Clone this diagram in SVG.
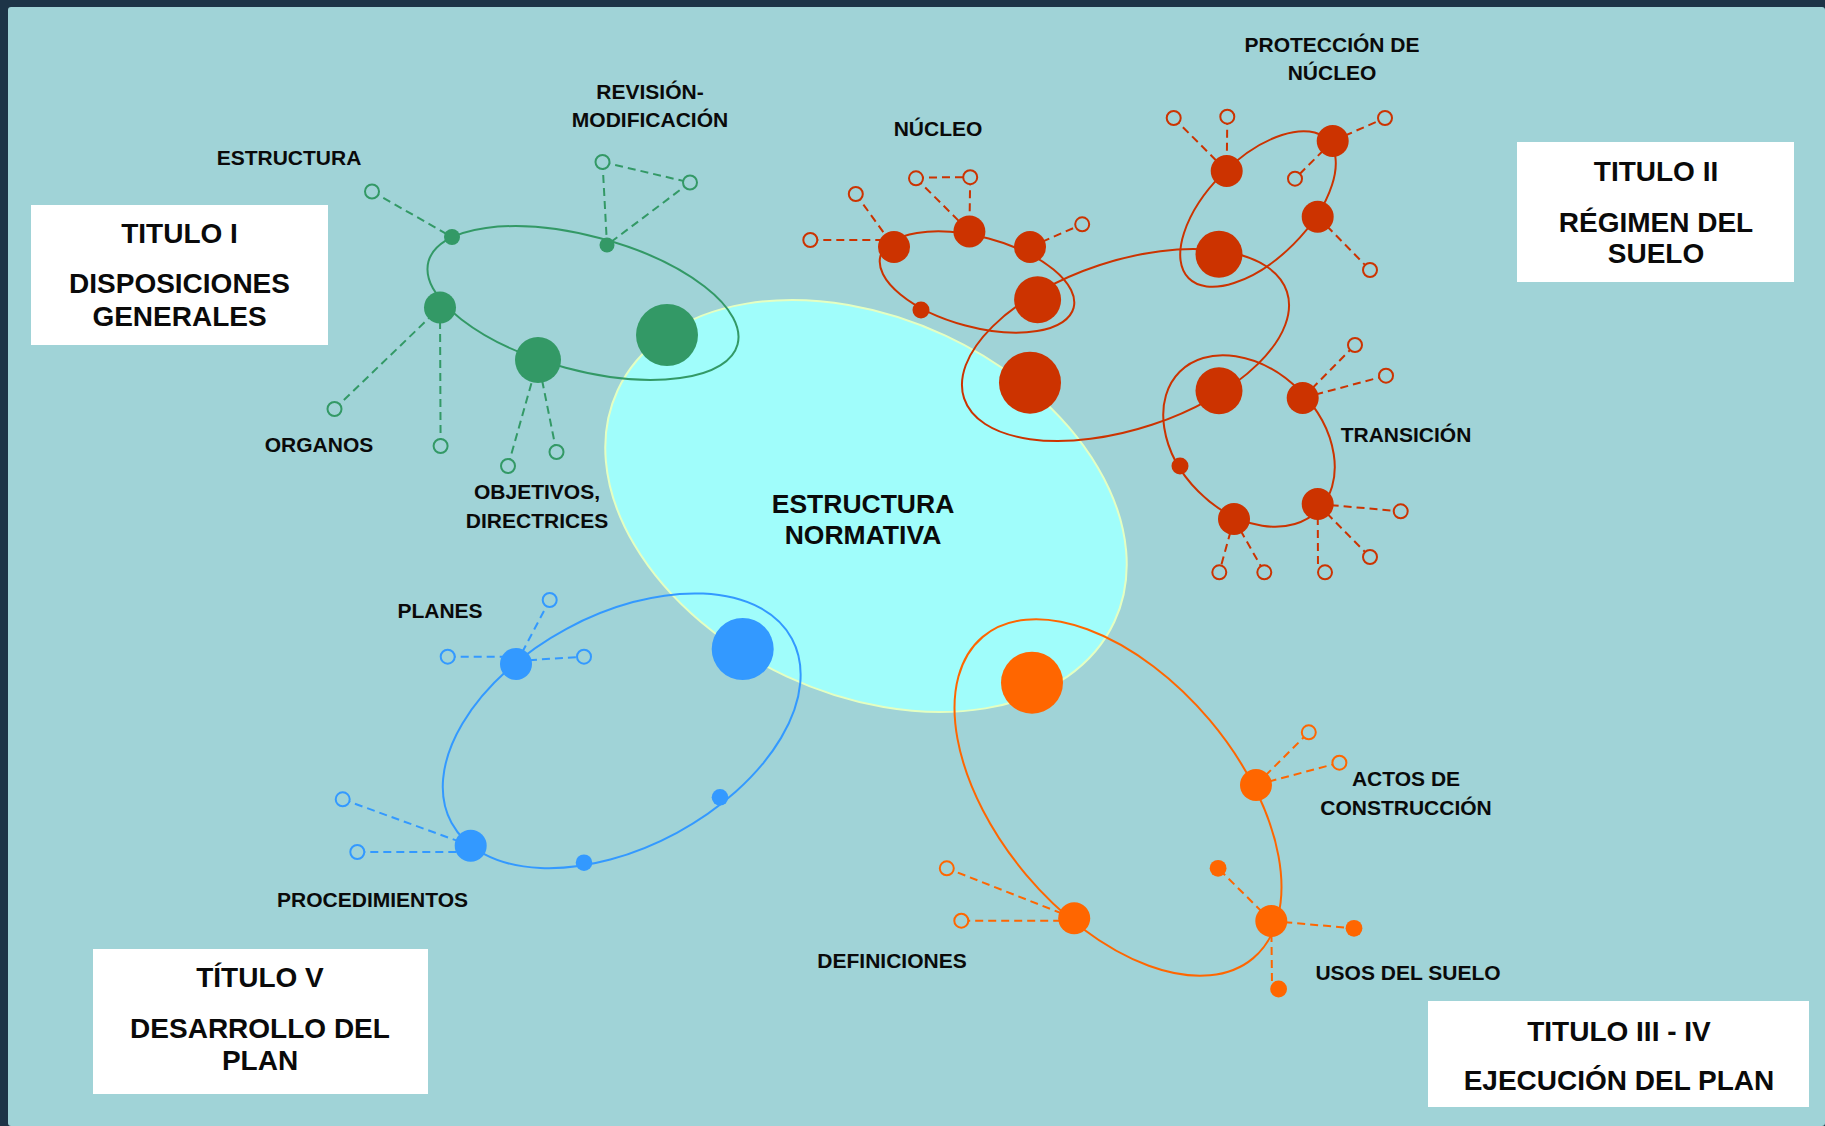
<svg xmlns="http://www.w3.org/2000/svg" width="1825" height="1126" viewBox="0 0 1825 1126">
<style>
.t{font-family:"Liberation Sans",Arial,Helvetica,sans-serif;font-weight:bold;fill:#0a0a0a;text-anchor:middle}
.l{font-size:21px}
.b{font-size:28px}
.c{font-size:26.5px}
.box{fill:#ffffff}
.loop{fill:none;stroke-width:2}
.dash{fill:none;stroke-width:2;stroke-dasharray:8 5}
.open{fill:#a0d3d7;stroke-width:2}
.gr{stroke:#339966}.grf{fill:#339966}
.rd{stroke:#cc3300}.rdf{fill:#cc3300}
.bl{stroke:#3399ff}.blf{fill:#3399ff}
.or{stroke:#ff6600}.orf{fill:#ff6600}
</style>
<rect x="0" y="0" width="1825" height="1126" fill="#1d3447"/>
<rect x="8" y="7" width="1817" height="1119" rx="3" fill="#a0d3d7"/>

<g id="estructura-normativa">
<ellipse cx="866" cy="506" rx="274" ry="188" transform="rotate(25 866 506)" fill="#a0fdfb" stroke="#e4ffc2" stroke-width="2"/>
<text class="t c" x="863" y="513">ESTRUCTURA</text>
<text class="t c" x="863" y="544">NORMATIVA</text>
</g>

<g id="connectors">
<!-- loops -->
<ellipse class="loop gr" cx="583" cy="303" rx="160" ry="67" transform="rotate(15 583 303)"/>
<ellipse class="loop rd" cx="977" cy="282" rx="100" ry="45" transform="rotate(15 977 282)"/>
<ellipse class="loop rd" cx="1125.5" cy="345" rx="170" ry="84" transform="rotate(-18.3 1125.5 345)"/>
<ellipse class="loop rd" cx="1258" cy="209" rx="98" ry="50" transform="rotate(-45 1258 209)"/>
<ellipse class="loop rd" cx="1249" cy="441" rx="98" ry="71.5" transform="rotate(45 1249 441)"/>
<ellipse class="loop bl" cx="621.7" cy="730.8" rx="193.5" ry="116" transform="rotate(-28.4 621.7 730.8)"/>
<ellipse class="loop or" cx="1118" cy="797.5" rx="210" ry="120" transform="rotate(49.9 1118 797.5)"/>
<!-- green dashes -->
<g class="dash gr">
<line x1="372" y1="191.5" x2="452" y2="237"/>
<line x1="602.5" y1="162" x2="607" y2="245"/>
<line x1="602.5" y1="162" x2="690" y2="182.5"/>
<line x1="690" y1="182.5" x2="607" y2="245"/>
<line x1="334.5" y1="409" x2="440" y2="307.5"/>
<line x1="440.6" y1="446" x2="440" y2="307.5"/>
<line x1="508" y1="466" x2="538" y2="360"/>
<line x1="556.5" y1="452" x2="538" y2="360"/>
</g>
<!-- red dashes -->
<g class="dash rd">
<line x1="810.3" y1="240" x2="882" y2="240"/>
<line x1="855.8" y1="194" x2="894" y2="247"/>
<line x1="916" y1="177.5" x2="970.2" y2="177.2"/>
<line x1="916" y1="178.3" x2="969.4" y2="231.5"/>
<line x1="970.2" y1="177.2" x2="969.4" y2="231.5"/>
<line x1="1030" y1="247" x2="1082.2" y2="224.3"/>
<line x1="1173.7" y1="118" x2="1226.7" y2="171"/>
<line x1="1227.3" y1="116.7" x2="1226.7" y2="171"/>
<line x1="1332.7" y1="141" x2="1385" y2="118"/>
<line x1="1332.7" y1="141" x2="1295" y2="178.7"/>
<line x1="1317.7" y1="216.7" x2="1370" y2="270"/>
<line x1="1302.7" y1="398" x2="1355" y2="345"/>
<line x1="1302.7" y1="398" x2="1386" y2="375.7"/>
<line x1="1317.7" y1="504" x2="1400.7" y2="511.3"/>
<line x1="1317.7" y1="504" x2="1370" y2="557"/>
<line x1="1317.7" y1="504" x2="1318" y2="568"/>
<line x1="1234" y1="519" x2="1219.3" y2="572.3"/>
<line x1="1234" y1="519" x2="1264.3" y2="572.3"/>
</g>
<!-- blue dashes -->
<g class="dash bl">
<line x1="516" y1="664" x2="549.7" y2="600"/>
<line x1="447.7" y1="656.7" x2="505" y2="656.7"/>
<line x1="516" y1="661" x2="584" y2="656.7"/>
<line x1="342.7" y1="799.3" x2="470.7" y2="845.7"/>
<line x1="357.3" y1="852" x2="470.7" y2="852"/>
</g>
<!-- orange dashes -->
<g class="dash or">
<line x1="1256" y1="785" x2="1308.8" y2="732.3"/>
<line x1="1256" y1="785" x2="1339.4" y2="762.7"/>
<line x1="1074.2" y1="918.3" x2="946.8" y2="868.3"/>
<line x1="1074.2" y1="920.7" x2="961.3" y2="920.7"/>
<line x1="1271.3" y1="921" x2="1218.1" y2="868.3"/>
<line x1="1271.3" y1="921" x2="1354" y2="928.3"/>
<line x1="1271.3" y1="921" x2="1272" y2="985"/>
</g>
</g>

<!-- TITULO I : green -->
<g id="t1-box"><rect class="box" x="31" y="205" width="297" height="140"/>
<text class="t b" x="179.5" y="243">TITULO I</text>
<text class="t b" x="179.5" y="293">DISPOSICIONES</text>
<text class="t b" x="179.5" y="326">GENERALES</text></g>
<g id="g-hub"><circle class="grf" cx="667" cy="335" r="31"/></g>
<g id="g-estructura"><circle class="grf" cx="452" cy="237" r="8"/><circle class="open gr" cx="372" cy="191.5" r="7"/><text class="t l" x="289" y="165">ESTRUCTURA</text></g>
<g id="g-revision"><circle class="grf" cx="607" cy="245" r="7.5"/><circle class="open gr" cx="602.5" cy="162" r="7"/><circle class="open gr" cx="690" cy="182.5" r="7"/><text class="t l" x="650" y="99">REVISIÓN-</text><text class="t l" x="650" y="127">MODIFICACIÓN</text></g>
<g id="g-organos"><circle class="grf" cx="440" cy="307.5" r="16"/><circle class="open gr" cx="334.5" cy="409" r="7"/><circle class="open gr" cx="440.6" cy="446" r="7"/><text class="t l" x="319" y="452">ORGANOS</text></g>
<g id="g-objetivos"><circle class="grf" cx="538" cy="360" r="23"/><circle class="open gr" cx="508" cy="466" r="7"/><circle class="open gr" cx="556.5" cy="452" r="7"/><text class="t l" x="537" y="499">OBJETIVOS,</text><text class="t l" x="537" y="528">DIRECTRICES</text></g>

<!-- TITULO II : red -->
<g id="t2-box"><rect class="box" x="1517" y="142" width="277" height="140"/>
<text class="t b" x="1656" y="181">TITULO II</text>
<text class="t b" x="1656" y="232">RÉGIMEN DEL</text>
<text class="t b" x="1656" y="263">SUELO</text></g>
<g id="r-hub"><circle class="rdf" cx="1030" cy="382.7" r="31"/><circle class="rdf" cx="1037.6" cy="299.7" r="23.5"/></g>
<g id="r-nucleo"><circle class="rdf" cx="894" cy="247" r="16"/><circle class="rdf" cx="969.4" cy="231.5" r="16"/><circle class="rdf" cx="1030" cy="247" r="16"/><circle class="rdf" cx="921" cy="310" r="8.5"/>
<circle class="open rd" cx="810.3" cy="240" r="7"/><circle class="open rd" cx="855.8" cy="194" r="7"/><circle class="open rd" cx="916" cy="178.3" r="7"/><circle class="open rd" cx="970.2" cy="177.2" r="7"/><circle class="open rd" cx="1082.2" cy="224.3" r="7"/>
<text class="t l" x="938" y="136">NÚCLEO</text></g>
<g id="r-proteccion"><circle class="rdf" cx="1219" cy="254.3" r="23.5"/><circle class="rdf" cx="1226.7" cy="171" r="16"/><circle class="rdf" cx="1332.7" cy="141" r="16"/><circle class="rdf" cx="1317.7" cy="216.7" r="16"/>
<circle class="open rd" cx="1173.7" cy="118" r="7"/><circle class="open rd" cx="1227.3" cy="116.7" r="7"/><circle class="open rd" cx="1385" cy="118" r="7"/><circle class="open rd" cx="1295" cy="178.7" r="7"/><circle class="open rd" cx="1370" cy="270" r="7"/>
<text class="t l" x="1332" y="52">PROTECCIÓN DE</text><text class="t l" x="1332" y="80">NÚCLEO</text></g>
<g id="r-transicion"><circle class="rdf" cx="1219" cy="390.7" r="23.5"/><circle class="rdf" cx="1302.7" cy="398" r="16"/><circle class="rdf" cx="1317.7" cy="504" r="16"/><circle class="rdf" cx="1234" cy="519" r="16"/><circle class="rdf" cx="1180" cy="466" r="8.5"/>
<circle class="open rd" cx="1355" cy="345" r="7"/><circle class="open rd" cx="1386" cy="375.7" r="7"/><circle class="open rd" cx="1400.7" cy="511.3" r="7"/><circle class="open rd" cx="1370" cy="557" r="7"/><circle class="open rd" cx="1325" cy="572.3" r="7"/><circle class="open rd" cx="1264.3" cy="572.3" r="7"/><circle class="open rd" cx="1219.3" cy="572.3" r="7"/>
<text class="t l" x="1406" y="442">TRANSICIÓN</text></g>

<!-- TITULO III-IV : orange -->
<g id="t3-box"><rect class="box" x="1428" y="1001" width="381" height="106"/>
<text class="t b" x="1619" y="1041">TITULO III - IV</text>
<text class="t b" x="1619" y="1090">EJECUCIÓN DEL PLAN</text></g>
<g id="o-hub"><circle class="orf" cx="1032" cy="682.7" r="31"/></g>
<g id="o-actos"><circle class="orf" cx="1256" cy="785" r="16"/><circle class="open or" cx="1308.8" cy="732.3" r="7"/><circle class="open or" cx="1339.4" cy="762.7" r="7"/><text class="t l" x="1406" y="786">ACTOS DE</text><text class="t l" x="1406" y="815">CONSTRUCCIÓN</text></g>
<g id="o-definiciones"><circle class="orf" cx="1074.2" cy="918.3" r="16"/><circle class="open or" cx="946.8" cy="868.3" r="7"/><circle class="open or" cx="961.3" cy="920.7" r="7"/><text class="t l" x="892" y="968">DEFINICIONES</text></g>
<g id="o-usos"><circle class="orf" cx="1271.3" cy="921" r="16"/><circle class="orf" cx="1218.1" cy="868.3" r="8.4"/><circle class="orf" cx="1354" cy="928.3" r="8.4"/><circle class="orf" cx="1278.6" cy="989" r="8.4"/><text class="t l" x="1408" y="980">USOS DEL SUELO</text></g>

<!-- TITULO V : blue -->
<g id="t5-box"><rect class="box" x="93" y="949" width="335" height="145"/>
<text class="t b" x="260" y="987">TÍTULO V</text>
<text class="t b" x="260" y="1038">DESARROLLO DEL</text>
<text class="t b" x="260" y="1070">PLAN</text></g>
<g id="b-hub"><circle class="blf" cx="742.7" cy="649" r="31"/><circle class="blf" cx="720" cy="797.3" r="8.3"/><circle class="blf" cx="584" cy="862.7" r="8.3"/></g>
<g id="b-planes"><circle class="blf" cx="516" cy="664" r="16"/><circle class="open bl" cx="549.7" cy="600" r="7"/><circle class="open bl" cx="447.7" cy="656.7" r="7"/><circle class="open bl" cx="584" cy="656.7" r="7"/><text class="t l" x="440" y="618">PLANES</text></g>
<g id="b-procedimientos"><circle class="blf" cx="470.7" cy="845.7" r="16"/><circle class="open bl" cx="342.7" cy="799.3" r="7"/><circle class="open bl" cx="357.3" cy="852" r="7"/><text class="t l" x="372.6" y="907">PROCEDIMIENTOS</text></g>
</svg>
